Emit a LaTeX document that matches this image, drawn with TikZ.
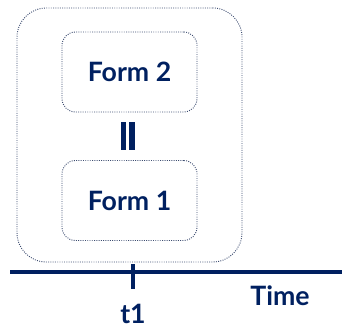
\documentclass[tikz,border=0pt]{standalone}
\usepackage{fontspec}
\setmainfont{Lato}
\usepackage{xcolor}
\usetikzlibrary{positioning}

\definecolor{navy}{RGB}{0,32,96}
\definecolor{slate}{RGB}{60,76,112}

\begin{document}
\begin{tikzpicture}[
		x=0.75pt, y=-0.75pt,
		outerbox/.style={draw=slate, densely dotted, line width=0.7pt, rounded corners=22pt, minimum width=168.75pt, minimum height=190.5pt},
		formbox/.style={draw=slate, densely dotted, line width=0.7pt, rounded corners=10pt, minimum width=101.25pt, minimum height=60pt, font=\fontsize{20}{24}\selectfont\bfseries, text=navy},
		lbl/.style={font=\fontsize{20}{24}\selectfont\bfseries, text=navy, inner sep=0pt},
		axis/.style={draw=navy, line width=3pt},
		eqbar/.style={draw=navy, line width=4pt}
	]
		\useasboundingbox (0,0) rectangle (342,328);

		% the state at t1 and its two equal forms
		\node[outerbox] (state) at (129.5,135) {};
		\node[formbox] (form2) at (129.5,72) {Form 2};
		\node[formbox] (form1) at (129.5,200.5) {Form 1};

		% equality between the forms
		\draw[eqbar] (123.5,122) -- (123.5,150);
		\draw[eqbar] (132,122) -- (132,150);

		% time axis
		\coordinate (ax0) at (10,272);
		\coordinate (ax1) at (342,272);
		\coordinate (tk) at (133,272);
		\draw[axis] (ax0) -- (ax1);
		\draw[axis] ([yshift=6pt]tk) -- ([yshift=-13pt]tk);
		\node[lbl] (t1) at (133,314) {t1};
		\node[lbl] (time) at (280,296) {Time};
	\end{tikzpicture}
\end{document}
